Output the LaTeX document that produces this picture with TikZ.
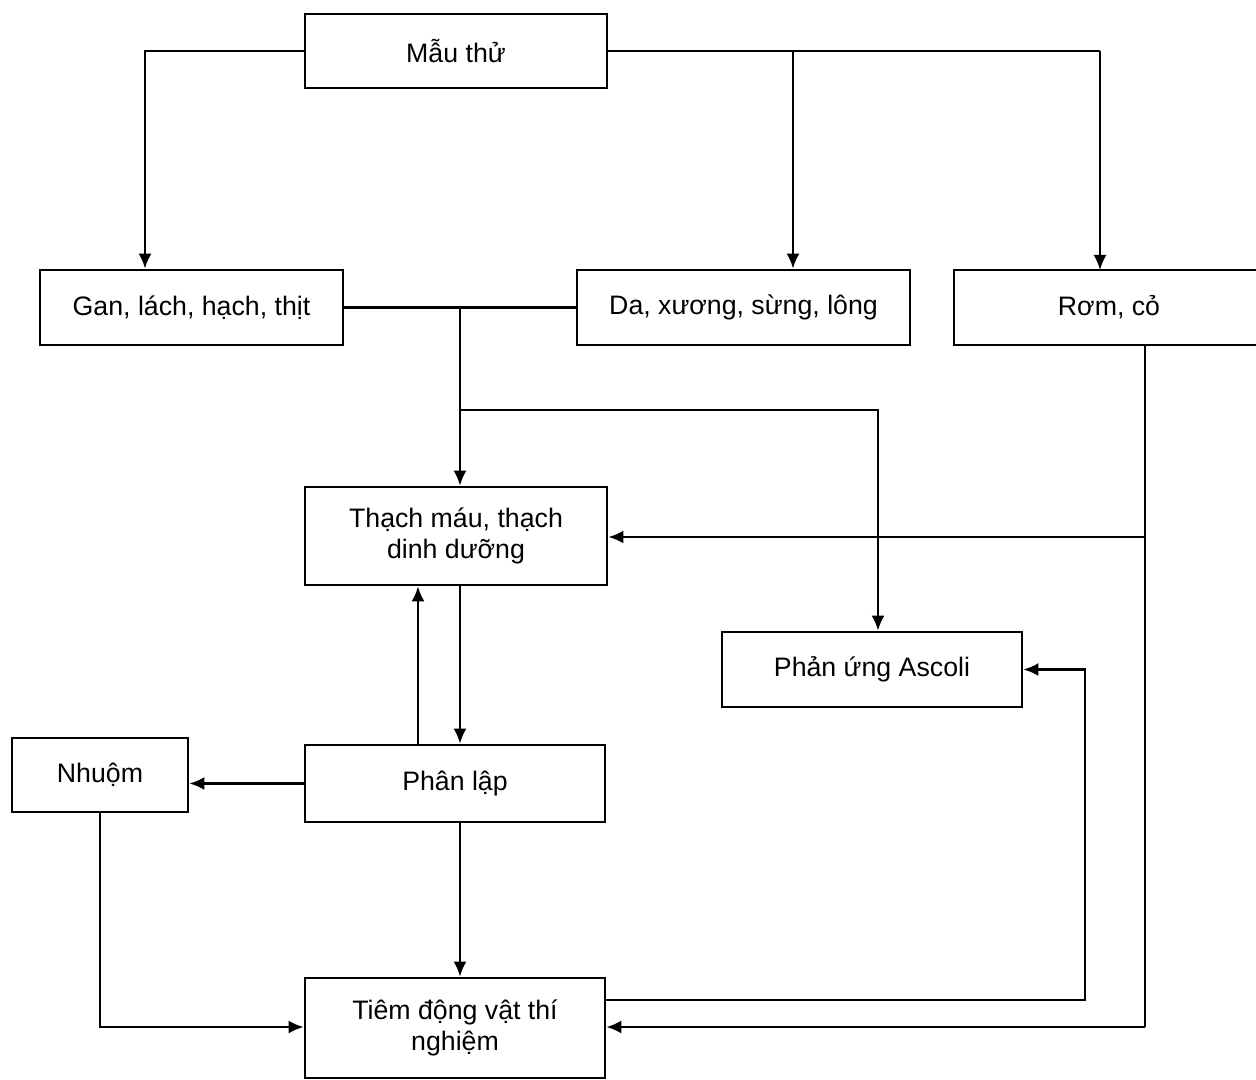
\documentclass[tikz,border=0pt]{standalone}
\usepackage{fontspec}
\setmainfont{Liberation Sans}
\usepackage{tikz}
\usetikzlibrary{arrows.meta}

\tikzset{
	box/.style={draw, line width=0.8pt, minimum width=3.02cm, minimum height=0.75cm, align=center, inner sep=1pt, font=\fontsize{7.6}{8.6}\selectfont},
	link/.style={line width=0.6pt}
}

\begin{document}
\begin{tikzpicture}[>={Latex[length=1.5mm,width=1.3mm]}]
		\useasboundingbox (0,0) rectangle (12.56,-10.80);

		\path	(4.56,-0.51) node[box, minimum height=0.74cm](mau) {Mẫu thử}
			(1.915,-3.075) node[box, minimum width=3.03cm](gan) {Gan, lách, hạch, thịt}
			(7.435,-3.075) node[box, minimum width=3.33cm](da) {Da, xương, sừng, lông}
			(11.09,-3.075) node[box, draw=none, minimum width=3.1cm, outer sep=0pt](rom) {Rơm, cỏ}
			(4.56,-5.36) node[box, minimum height=0.98cm](thach) {Thạch máu, thạch\\dinh dưỡng}
			(8.72,-6.695) node[box, minimum width=3.0cm](ascoli) {Phản ứng Ascoli}
			(4.55,-7.835) node[box, minimum width=3.0cm, minimum height=0.77cm](phanlap) {Phân lập}
			(1.0,-7.75) node[box, minimum width=1.76cm, minimum height=0.74cm](nhuom) {Nhuộm}
			(4.55,-10.28) node[box, minimum width=3.0cm, minimum height=1.0cm](tiem) {Tiêm động vật thí\\nghiệm};

		\coordinate (edge) at (12.56,0);
		% rom, co runs off the page
		\draw[line width=0.8pt] (rom.north -| edge) -- (rom.north west) -- (rom.south west) -- (rom.south -| edge);

		\coordinate (c1) at (1.45,-0.51);
		\coordinate (c2) at (7.93,-0.51);
		\coordinate (c3) at (11.0,-0.51);
		\coordinate (c4) at (4.6,-3.075);
		\coordinate (c5) at (4.6,-4.10);
		\coordinate (c6) at (8.78,-4.10);
		\coordinate (c7) at (11.45,-5.37);
		\coordinate (c8) at (11.45,-10.27);
		\coordinate (c9) at (10.85,-10.0);
		\coordinate (c10) at (4.18,-7.0);

		% mau thu
		\draw[link, ->] (mau.west) -- (c1) -- (gan.north -| c1);
		\draw[link] (mau.east) -- (c3);
		\draw[link, ->] (c2) -- (da.north -| c2);
		\draw[link, ->] (c3) -- (rom.north -| c3);

		\draw[link] (gan.east) -- (da.west);
		\draw[link, ->] (c4) -- (thach.north -| c4);
		\draw[link, ->] (c5) -- (c6) -- (ascoli.north -| c6);

		\draw[link] (rom.south -| c7) -- (c8);
		\draw[link, ->] (c7) -- (thach.east |- c7);
		\draw[link, ->] (c8) -- (tiem.east |- c8);
		\draw[link, ->] (tiem.east |- c9) -- (c9) |- (ascoli.east);

		\draw[link, ->] (phanlap.north -| c10) -- (thach.south -| c10);
		\draw[link, ->] (thach.south -| c4) -- (phanlap.north -| c4);
		\draw[link, ->] (phanlap.west) -- (nhuom.east |- phanlap.west);
		\draw[link, ->] (nhuom.south) |- (tiem.west |- c8);
		\draw[link, ->] (phanlap.south -| c4) -- (tiem.north -| c4);
\end{tikzpicture}
\end{document}
